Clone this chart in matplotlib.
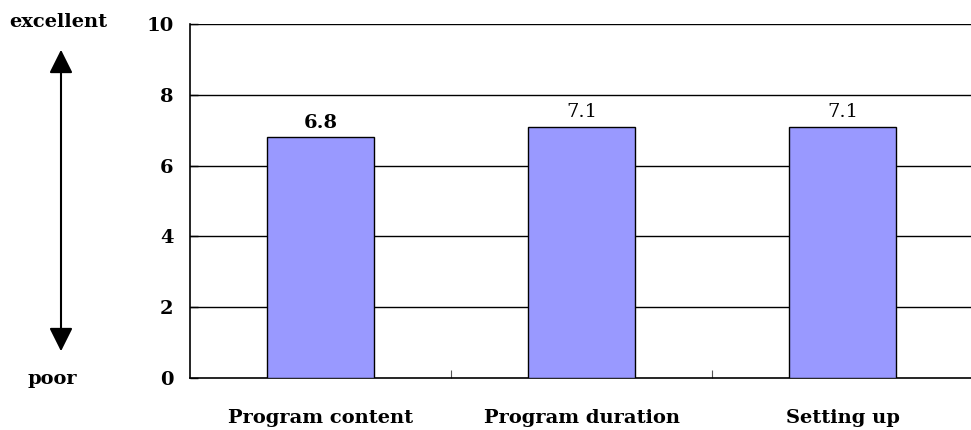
import matplotlib
matplotlib.use("Agg")
import matplotlib.pyplot as plt
from matplotlib.ticker import FixedLocator

categories = ["Program content", "Program duration", "Setting up"]
values = [6.8, 7.1, 7.1]
value_labels = ["6.8", "7.1", "7.1"]
label_weights = ["bold", "normal", "normal"]
y_ticks = [0, 2, 4, 6, 8, 10]

plt.rcParams['font.family'] = ['DejaVu Serif']
FS = 14

fig = plt.figure(figsize=(9.71, 4.30), dpi=100)
ax = fig.add_axes([190/971, 52/430, 783/971, 354/430])

x = list(range(len(categories)))
ax.bar(x, values, width=0.41, color='#9999FF', edgecolor='black', linewidth=1.0, zorder=3)
for xi, v, lab, w in zip(x, values, value_labels, label_weights):
    ax.text(xi, v + 0.15, lab, ha='center', va='bottom', fontsize=FS, fontweight=w, zorder=4)

ax.set_xlim(-0.5, len(categories) - 0.5)
ax.set_ylim(0, 10)
ax.set_yticks(y_ticks)
ax.set_yticklabels([str(t) for t in y_ticks], fontsize=FS, fontweight='bold')
ax.set_xticks(x)
ax.set_xticklabels(categories, fontsize=FS, fontweight='bold')
ax.tick_params(axis='x', which='major', length=0, pad=22)
ax.xaxis.set_minor_locator(FixedLocator([0.5, 1.5]))
ax.tick_params(axis='x', which='minor', direction='in', length=6, width=0.8, color='#555555')
ax.tick_params(axis='y', direction='in', length=6, width=1, pad=12)

for t in y_ticks[1:]:
    ax.axhline(t, color='black', linewidth=1.0, zorder=1)

ax.spines['right'].set_visible(False)
ax.spines['top'].set_visible(False)
ax.spines['left'].set_linewidth(1.2)
ax.spines['bottom'].set_linewidth(1.2)

fig.text(58/971, 1 - 22/430, "excellent", ha='center', va='center', fontsize=FS, fontweight='bold')
fig.text(52/971, 1 - 379/430, "poor", ha='center', va='center', fontsize=FS, fontweight='bold')
fig.add_artist(matplotlib.patches.FancyArrowPatch(
    (61/971, 1 - 354/430), (61/971, 1 - 47/430), transform=fig.transFigure,
    arrowstyle='<|-|>,head_length=0.72,head_width=0.36', mutation_scale=20,
    color='black', linewidth=1.5))

fig.savefig("out.png", dpi=100)
